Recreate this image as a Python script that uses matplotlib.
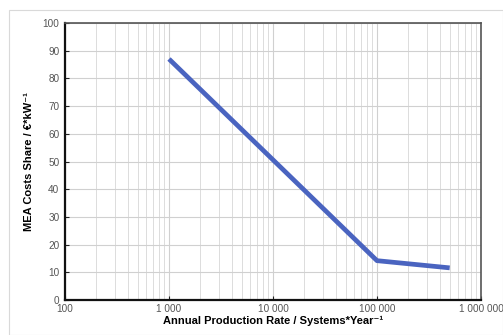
import matplotlib.pyplot as plt
from matplotlib.ticker import FuncFormatter, LogLocator, MultipleLocator
from matplotlib.patches import Rectangle

# data
production_rate = [1000, 100000, 500000]
mea_cost_share = [87.0, 14.2, 11.6]

plt.rcParams['font.family'] = ['Liberation Sans', 'DejaVu Sans']

fig = plt.figure(figsize=(5.03, 3.35), dpi=100)
ax = fig.add_axes([65 / 503, 1 - 300 / 335, 416 / 503, 277 / 335])

# light outer frame of the chart area
fig.patches.append(Rectangle((9 / 503, 0), 494 / 503, 1 - 10 / 335, transform=fig.transFigure,
                             fill=False, edgecolor='#d9d9d9', linewidth=0.8))

ax.plot(production_rate, mea_cost_share, color='#4a64c0', linewidth=3.4, solid_capstyle='butt', zorder=3)

ax.set_xscale('log')
ax.set_xlim(100, 1000000)
ax.set_ylim(0, 100)
ax.xaxis.set_major_locator(LogLocator(base=10, numticks=10))
ax.xaxis.set_minor_locator(LogLocator(base=10, subs=range(2, 10), numticks=20))
ax.yaxis.set_major_locator(MultipleLocator(10))
ax.xaxis.set_major_formatter(FuncFormatter(lambda v, p: f'{int(round(v)):,}'.replace(',', ' ')))
ax.xaxis.set_minor_formatter(FuncFormatter(lambda v, p: ''))

ax.grid(True, which='major', color='#d0d0d0', linewidth=0.8)
ax.grid(True, which='minor', axis='x', color='#dcdcdc', linewidth=0.7)
ax.set_axisbelow(True)

ax.tick_params(axis='both', which='major', direction='in', length=3, labelsize=7.2,
               labelcolor='#555555', color='#222222', pad=4)
ax.tick_params(axis='x', which='minor', length=0)
ax.tick_params(axis='x', which='major', pad=3)

for side in ['left', 'bottom']:
    ax.spines[side].set_linewidth(1.6)
    ax.spines[side].set_color('#111111')
for side in ['top', 'right']:
    ax.spines[side].set_linewidth(1.2)
    ax.spines[side].set_color('#555555')

ax.set_xlabel('Annual Production Rate / Systems*Year⁻¹', fontsize=8, fontweight='bold', labelpad=1)
ax.set_ylabel('MEA Costs Share / €*kW⁻¹', fontsize=8, fontweight='bold', labelpad=6)

fig.savefig('out.png', dpi=100)
